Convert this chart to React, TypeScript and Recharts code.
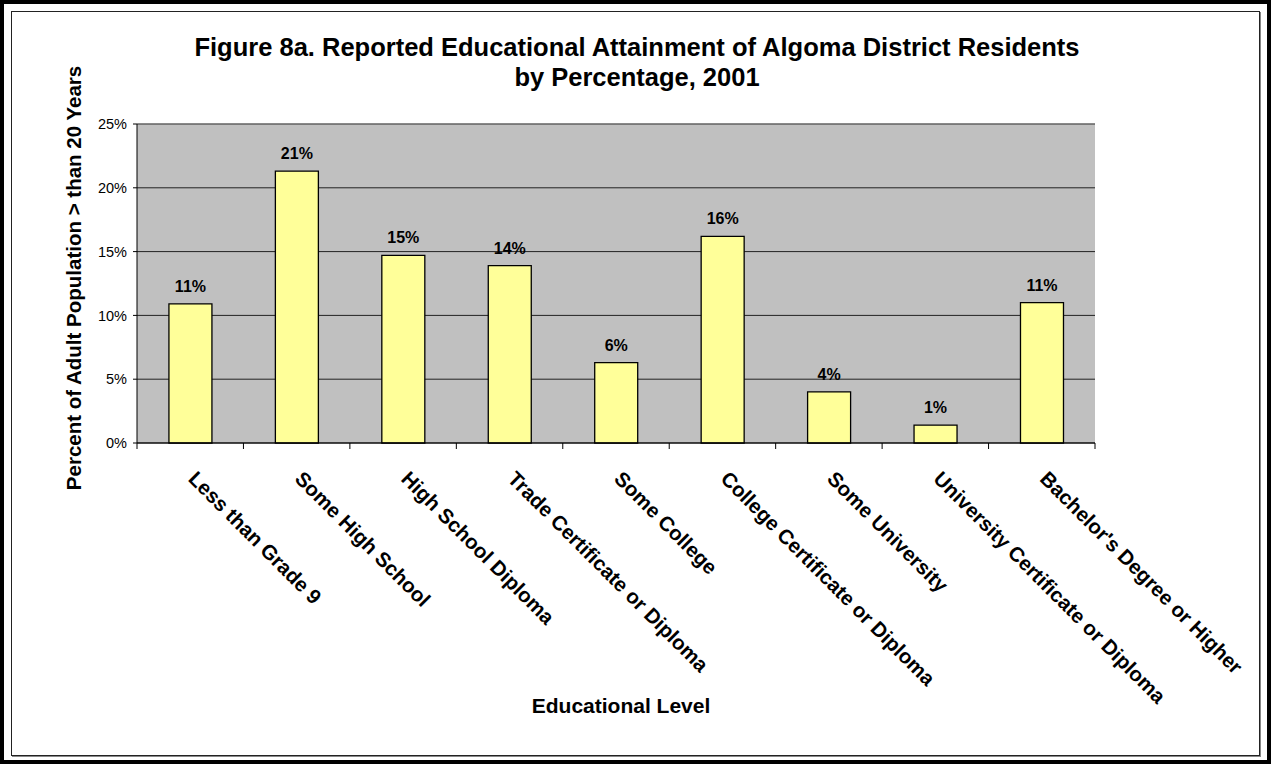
import { BarChart, Bar, XAxis, YAxis, CartesianGrid, LabelList, ReferenceLine } from 'recharts'

const categories = [
  'Less than Grade 9',
  'Some High School',
  'High School Diploma',
  'Trade Certificate or Diploma',
  'Some College',
  'College Certificate or Diploma',
  'Some University',
  'University Certificate or Diploma',
  "Bachelor's Degree or Higher"
]
const shares = [10.9, 21.3, 14.7, 13.9, 6.3, 16.2, 4.0, 1.4, 11.0]
const yTicks = [0, 5, 10, 15, 20, 25]
const titleLines = [
  'Figure 8a. Reported Educational Attainment of Algoma District Residents',
  'by Percentage, 2001'
]
const yTitle = 'Percent of Adult Population > than 20 Years'
const xTitle = 'Educational Level'

const data = categories.map((name, i) => ({ name, share: shares[i] }))

const W = 1271
const H = 764
const PLOT_LEFT = 137
const PLOT_RIGHT = 1095
const PLOT_TOP = 124
const PLOT_BOTTOM = 443
const Y_AXIS_W = 70
const X_AXIS_H = 60
const FONT = '"Liberation Sans", Arial, sans-serif'

const CategoryTick = (props: any) => {
  const { x, payload, index } = props
  const band = (PLOT_RIGHT - PLOT_LEFT) / categories.length
  const lx = x - 3
  const ly = PLOT_BOTTOM + 37
  return (
    <g>
      <line x1={x - band / 2} x2={x - band / 2} y1={PLOT_BOTTOM} y2={PLOT_BOTTOM + 6} stroke='#000' />
      {index === categories.length - 1 && (
        <line x1={x + band / 2} x2={x + band / 2} y1={PLOT_BOTTOM} y2={PLOT_BOTTOM + 6} stroke='#000' />
      )}
      <text
        x={lx}
        y={ly}
        transform={`rotate(45, ${lx}, ${ly})`}
        fontSize={20.5}
        fontWeight='bold'
        fontFamily={FONT}
        fill='#000'
        textAnchor='start'
      >
        {payload.value}
      </text>
    </g>
  )
}

export default function App() {
  return (
    <div style={{ position: 'absolute', left: 0, top: 0, width: W, height: H, background: '#fff', fontFamily: FONT }}>
      {/* frame */}
      <div style={{ position: 'absolute', inset: 0, border: '4px solid #000', boxSizing: 'border-box' }} />
      <div
        style={{
          position: 'absolute',
          left: 11,
          top: 11,
          width: 1249,
          height: 745,
          border: '1px solid #222',
          boxShadow: '1px 1px 0 #888',
          boxSizing: 'border-box'
        }}
      />

      <div style={{ position: 'absolute', left: 0, top: 0 }}>
        <BarChart
          width={W}
          height={H}
          data={data}
          barCategoryGap='30%'
          margin={{
            top: PLOT_TOP,
            right: W - PLOT_RIGHT,
            left: PLOT_LEFT - Y_AXIS_W,
            bottom: H - PLOT_BOTTOM - X_AXIS_H
          }}
        >
          <CartesianGrid vertical={false} fill='#C0C0C0' stroke='#222' />
          <XAxis
            dataKey='name'
            interval={0}
            height={X_AXIS_H}
            tickLine={false}
            axisLine={{ stroke: '#000' }}
            tick={(p: any) => <CategoryTick {...p} />}
          />
          <YAxis
            width={Y_AXIS_W}
            domain={[0, 25]}
            ticks={yTicks}
            tickFormatter={(v: number) => v + '%'}
            tickSize={4}
            tickMargin={6}
            axisLine={{ stroke: '#000' }}
            tickLine={{ stroke: '#000' }}
            tick={{ fontSize: 14.5, fill: '#000', fontFamily: FONT }}
          />
          <YAxis
            yAxisId='edge'
            orientation='right'
            width={0}
            tick={false}
            tickLine={false}
            axisLine={{ stroke: '#808080' }}
          />
          <ReferenceLine y={25} stroke='#808080' />
          <Bar dataKey='share' fill='#FFFF99' stroke='#000' strokeWidth={1.3} isAnimationActive={false}>
            <LabelList
              dataKey='share'
              position='top'
              offset={12}
              formatter={(v: any) => Math.round(Number(v)) + '%'}
              fontSize={16}
              fontWeight='bold'
              fontFamily={FONT}
              fill='#000'
            />
          </Bar>
        </BarChart>
      </div>

      {/* titles */}
      <svg width={W} height={H} style={{ position: 'absolute', left: 0, top: 0, pointerEvents: 'none' }}>
        {titleLines.map((line, i) => (
          <text
            key={line}
            x={637}
            y={56 + i * 30}
            textAnchor='middle'
            fontSize={25.5}
            fontWeight='bold'
            fontFamily={FONT}
            fill='#000'
          >
            {line}
          </text>
        ))}
        <text
          x={81}
          y={278}
          transform='rotate(-90, 81, 278)'
          textAnchor='middle'
          fontSize={20.5}
          fontWeight='bold'
          fontFamily={FONT}
          fill='#000'
        >
          {yTitle}
        </text>
        <text x={621} y={713} textAnchor='middle' fontSize={21} fontWeight='bold' fontFamily={FONT} fill='#000'>
          {xTitle}
        </text>
      </svg>
    </div>
  )
}
